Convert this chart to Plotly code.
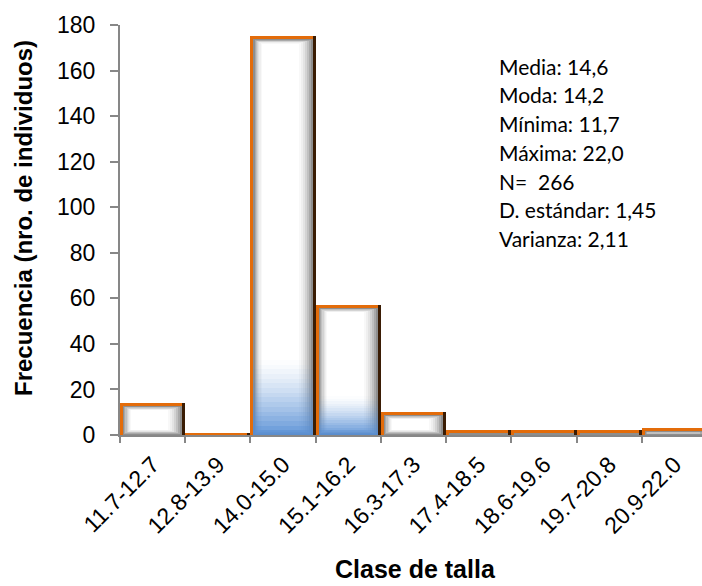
import plotly.graph_objects as go

# Frequency of individuals per size class
clases = ["11.7-12.7", "12.8-13.9", "14.0-15.0", "15.1-16.2", "16.3-17.3",
          "17.4-18.5", "18.6-19.6", "19.7-20.8", "20.9-22.0"]
frecuencia = [14, 1, 175, 57, 10, 2, 2, 2, 3]
y_ticks = [0, 20, 40, 60, 80, 100, 120, 140, 160, 180]
resumen = ["Media: 14,6", "Moda: 14,2", "Mínima: 11,7", "Máxima: 22,0",
           "N=  266", "D. estándar: 1,45", "Varianza: 2,11"]

# Styling: height (in frequency units) of the blue glow at the base of some bars
brillo_azul = [0, 0, 33, 17, 0, 0, 0, 0, 0]

# Plot geometry (pixels) used to size the bevel effect
W, H = 702, 586
ML, MR, MT, MB = 120, 0, 25, 151
X_RANGE = [-0.5, 8.42]
Y_RANGE = [0, 180]
plot_w = W - ML - MR
plot_h = H - MT - MB
ux = (X_RANGE[1] - X_RANGE[0]) / plot_w   # category units per pixel
uy = (Y_RANGE[1] - Y_RANGE[0]) / plot_h   # value units per pixel

FONT = "Liberation Sans, Arial, sans-serif"
AXIS_GRAY = "#878787"
ORANGE = "#E36C0A"
SHADOW = "#3a1c04"

fig = go.Figure()


def capa(base, largo, offset, width, color):
    fig.add_trace(go.Bar(
        x=clases, y=largo, base=base, offset=offset, width=width,
        marker=dict(color=color, line=dict(width=0)),
        hoverinfo="skip", showlegend=False,
    ))


# dark shadow on the right edge
capa([0] * len(frecuencia), frecuencia, -0.5, 1.0, SHADOW)
# orange rim (left and top)
capa([0] * len(frecuencia), frecuencia, -0.5, 1.0 - 3 * ux, ORANGE)

# bevelled face: nested rectangles from grey edge to white centre
grises = ["#8e8e8e", "#a9a9a9", "#c0c0c0", "#d3d3d3", "#e3e3e3", "#efefef", "#f8f8f8", "#ffffff"]
for k, col in enumerate(grises):
    izq = -0.5 + (3 + k * 1.2) * ux
    der = 0.5 - (3 + k * 2.0) * ux
    bases, largos = [], []
    for v in frecuencia:
        top = v - (3 + k * 0.6) * uy
        bot = (0.5 + k * 0.7) * uy
        bases.append(bot)
        largos.append(max(0.0, top - bot))
    capa(bases, largos, izq, der - izq, col)

# blue glow at the base of the bars
izq = -0.5 + 3 * ux
der = 0.5 - 3 * ux
K = 16
for j in range(K):
    a = 0.9 * (1 - j / K) ** 1.4
    bases, largos = [], []
    for v, g in zip(frecuencia, brillo_azul):
        h = min(g, v - 3 * uy)
        seg = h / K if h > 0 else 0
        bases.append(j * seg)
        largos.append(seg)
    capa(bases, largos, izq, der - izq, f"rgba(84,141,212,{a:.3f})")


def py(pix):
    """Convert a pixel row of the figure into paper y."""
    return (MT + plot_h - pix) / plot_h


def px(pix):
    """Convert a pixel column of the figure into paper x."""
    return (pix - ML) / plot_w


# summary statistics, one line each
notas = []
for i, linea in enumerate(resumen):
    notas.append(dict(
        text=linea, xref="paper", yref="paper",
        x=px(497), y=py(66 + i * 28.8),
        xanchor="left", yanchor="middle", align="left", showarrow=False,
        font=dict(family="Lato, Carlito, sans-serif", size=21, color="black"),
    ))

notas += [
    dict(text="<b>Frecuencia (nro. de individuos)</b>", xref="paper", yref="paper",
         x=px(23), y=py(218), xanchor="center", yanchor="middle",
         textangle=-90, showarrow=False,
         font=dict(family=FONT, size=24, color="black")),
    dict(text="<b>Clase de talla</b>", xref="paper", yref="paper",
         x=px(415), y=py(569), xanchor="center", yanchor="middle",
         showarrow=False,
         font=dict(family=FONT, size=25, color="black")),
]

fig.update_layout(
    width=W, height=H,
    margin=dict(l=ML, r=MR, t=MT, b=MB),
    paper_bgcolor="white", plot_bgcolor="white",
    barmode="overlay", bargap=0,
    font=dict(family=FONT, color="black"),
    xaxis=dict(
        type="category", range=X_RANGE,
        showline=True, linecolor=AXIS_GRAY, linewidth=2,
        ticks="outside", tickson="boundaries", ticklen=6, tickwidth=2, tickcolor=AXIS_GRAY,
        tickangle=-45, tickfont=dict(family=FONT, size=23, color="black"),
        ticklabelstandoff=5,
        showgrid=False, zeroline=False,
    ),
    yaxis=dict(
        range=Y_RANGE, tickvals=y_ticks,
        showline=True, linecolor=AXIS_GRAY, linewidth=2,
        ticks="outside", ticklen=8, tickwidth=2, tickcolor=AXIS_GRAY,
        tickfont=dict(family=FONT, size=23, color="black"),
        ticklabelstandoff=10,
        showgrid=False, zeroline=False,
    ),
    annotations=notas,
)

fig.write_html("out.html")
